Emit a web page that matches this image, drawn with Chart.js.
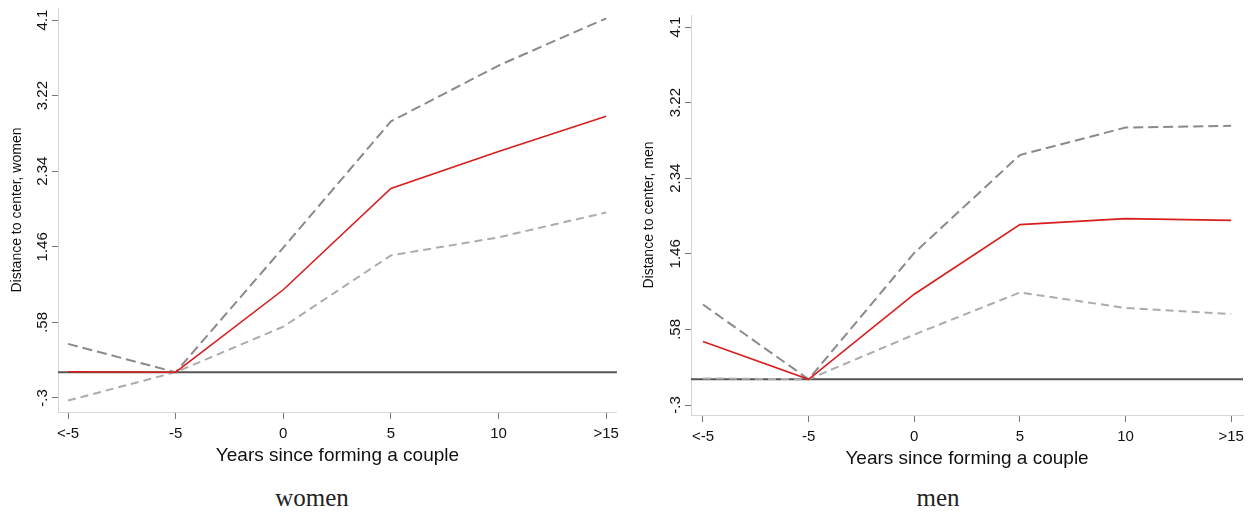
<!DOCTYPE html>
<html>
<head>
<meta charset="utf-8">
<script src="https://cdn.jsdelivr.net/npm/chart.js@4"></script>
<style>
  body { margin: 0; background: #fff; width: 1250px; height: 512px; position: relative; overflow: hidden; }
  .panel { position: absolute; top: 0; width: 625px; height: 470px; }
  .caption { position: absolute; top: 484px; font-family: "Liberation Serif", serif; font-size: 25px; color: #222; transform: translateX(-50%); }
</style>
</head>
<body>
<div class="panel" style="left:0"><canvas id="women" width="625" height="470"></canvas></div>
<div class="panel" style="left:625px"><canvas id="men" width="625" height="470"></canvas></div>
<div class="caption" style="left:312px">women</div>
<div class="caption" style="left:938px">men</div>
<script>
// x positions 0..5 map onto these labels
const xLabels = ['<-5', '-5', '0', '5', '10', '>15'];
const xPos = [0, 1, 2, 3, 4, 5];
const yTicks = [-0.3, 0.58, 1.46, 2.34, 3.22, 4.1];
const yTickLabels = ['-.3', '.58', '1.46', '2.34', '3.22', '4.1'];

// women
const womenEst = [0.005, 0, 0.96, 2.14, 2.57, 2.98];
const womenHigh = [0.33, 0, 1.45, 2.92, 3.57, 4.12];
const womenLow = [-0.33, 0, 0.53, 1.36, 1.57, 1.86];

// men
const menEst = [0.44, 0, 0.99, 1.80, 1.87, 1.85];
const menHigh = [0.87, 0, 1.47, 2.61, 2.93, 2.95];
const menLow = [0.01, 0, 0.52, 1.01, 0.83, 0.76];

const sans = '"Liberation Sans", Arial, sans-serif';

const pts = (vals) => vals.map((v, i) => ({ x: xPos[i], y: v }));

// draws the rotated y tick labels next to the tick marks
const yLabelPlugin = {
  id: 'yLabels',
  afterDraw(chart) {
    const y = chart.scales.y;
    const ctx = chart.ctx;
    ctx.save();
    ctx.fillStyle = '#111';
    ctx.font = '15px ' + sans;
    ctx.textAlign = 'center';
    ctx.textBaseline = 'middle';
    yTicks.forEach((v, i) => {
      ctx.save();
      ctx.translate(y.right - 15, y.getPixelForValue(v));
      ctx.rotate(-Math.PI / 2);
      ctx.fillText(yTickLabels[i], 0, 0);
      ctx.restore();
    });
    ctx.restore();
  }
};

function makeChart(id, opts) {
  const data = {
    datasets: [
      { data: pts(opts.est), borderColor: '#d81e1e', borderWidth: 1.6 },
      { data: pts(opts.high), borderColor: '#8a8a8a', borderWidth: 2, borderDash: [10, 5] },
      { data: pts(opts.low), borderColor: '#acacac', borderWidth: 2, borderDash: [8, 5] },
      { data: [{ x: opts.xMin, y: 0 }, { x: opts.xMax, y: 0 }], borderColor: '#555', borderWidth: 2 }
    ]
  };
  return new Chart(document.getElementById(id), {
    type: 'line',
    data,
    plugins: [yLabelPlugin],
    options: {
      responsive: false,
      animation: false,
      elements: { point: { radius: 0 }, line: { tension: 0 } },
      layout: { padding: opts.padding },
      plugins: { legend: { display: false }, tooltip: { enabled: false } },
      scales: {
        x: {
          type: 'linear',
          min: opts.xMin,
          max: opts.xMax,
          afterBuildTicks: (s) => { s.ticks = xPos.map((v) => ({ value: v })); },
          afterFit: (s) => { s.height = 55; },
          ticks: {
            autoSkip: false, maxRotation: 0, padding: 6,
            color: '#111', font: { family: sans, size: 15 },
            callback: (v, i) => xLabels[i]
          },
          grid: { display: true, drawOnChartArea: false, drawTicks: true, tickLength: 7, tickColor: '#777' },
          border: { display: true, color: '#d6d6d6', width: 1 },
          title: { display: true, text: 'Years since forming a couple', color: '#111',
                   font: { family: sans, size: 19 }, padding: { top: 0, bottom: 0 } }
        },
        y: {
          min: opts.yMin,
          max: opts.yMax,
          afterBuildTicks: (s) => { s.ticks = yTicks.map((v) => ({ value: v })); },
          afterFit: (s) => { s.width = opts.yWidth; },
          ticks: { display: false },
          grid: { display: true, drawOnChartArea: false, drawTicks: true, tickLength: 6, tickColor: '#777' },
          border: { display: true, color: '#d6d6d6', width: 1 },
          title: { display: true, text: opts.yTitle, color: '#111',
                   font: { family: sans, size: 14 }, padding: { top: opts.titlePad, bottom: 0 } }
        }
      }
    }
  });
}

makeChart('women', {
  est: womenEst, high: womenHigh, low: womenLow,
  xMin: -0.093, xMax: 5.10, yMin: -0.463, yMax: 4.24,
  yWidth: 58, titlePad: 9,
  yTitle: 'Distance to center, women',
  padding: { left: 0, right: 7, top: 8, bottom: 3 }
});

makeChart('men', {
  est: menEst, high: menHigh, low: menLow,
  xMin: -0.113, xMax: 5.113, yMin: -0.416, yMax: 4.24,
  yWidth: 66, titlePad: 16,
  yTitle: 'Distance to center, men',
  padding: { left: 0, right: 6, top: 15, bottom: 0 }
});
</script>
</body>
</html>
